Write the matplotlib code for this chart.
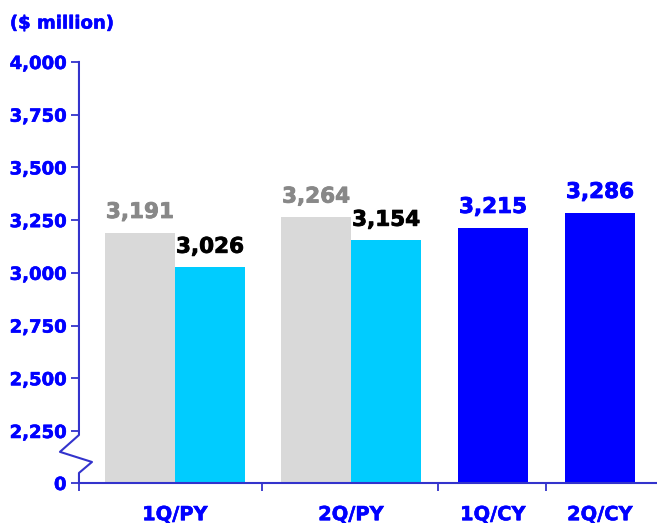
import matplotlib
matplotlib.use("Agg")
import matplotlib.pyplot as plt
import matplotlib.transforms as mtransforms
import matplotlib.patheffects as pe

# data ($ million)
groups = ["1Q/PY", "2Q/PY", "1Q/CY", "2Q/CY"]
py_grey = [3191, 3264]      # grey bars, prior year
py_cyan = [3026, 3154]      # cyan bars, prior year
cy_blue = [3215, 3286]      # blue bars, current year
yticks = [2250, 2500, 2750, 3000, 3250, 3500, 3750, 4000]

# colours
BLUE = "#0000ff"
AXIS = "#3333cc"
GREY = "#d9d9d9"
CYAN = "#00ccff"

# y axis is broken: the "0" sits a little below 2,250
y_zero = 2003.4

plt.rcParams["font.family"] = ["DejaVu Sans"]
plt.rcParams["font.weight"] = "bold"


def heavy(color, lw=0.4):
    # thin outline in the same colour, the reference font is a bit heavier
    return [pe.withStroke(linewidth=lw, foreground=color)]


fig = plt.figure(figsize=(6.57, 5.23), dpi=100)
ax = fig.add_axes([0.1202, 0.0765, 0.8798, 0.805])

w = 1.0
py_centers = [1.371, 3.886]
cy_centers = [5.914, 7.443]

# prior year bars
for i, c in enumerate(py_centers):
    ax.bar(c - w / 2, py_grey[i] - y_zero, width=w, bottom=y_zero, color=GREY)
    ax.bar(c + w / 2, py_cyan[i] - y_zero, width=w, bottom=y_zero, color=CYAN)
    ax.annotate(f"{py_grey[i]:,}", (c - w / 2, py_grey[i]), xytext=(0, 10.5),
                textcoords="offset points", ha="center", va="baseline",
                fontsize=15.5, fontweight="bold", color="#888888",
                path_effects=heavy("#888888", 0.6))
    ax.annotate(f"{py_cyan[i]:,}", (c + w / 2, py_cyan[i]), xytext=(0, 10.5),
                textcoords="offset points", ha="center", va="baseline",
                fontsize=15.5, fontweight="bold", color="black",
                path_effects=heavy("black", 0.6))

# current year bars
for i, c in enumerate(cy_centers):
    ax.bar(c, cy_blue[i] - y_zero, width=w, bottom=y_zero, color=BLUE)
    ax.annotate(f"{cy_blue[i]:,}", (c, cy_blue[i]), xytext=(0, 10.5),
                textcoords="offset points", ha="center", va="baseline",
                fontsize=15.5, fontweight="bold", color=BLUE,
                path_effects=heavy(BLUE, 0.6))

ax.set_xlim(0, 8.257)
ax.set_ylim(y_zero, 4000)

# y ticks
ax.set_yticks([y_zero] + yticks)
ax.set_yticklabels(["0"] + [f"{v:,}" for v in yticks])
ax.tick_params(axis="y", direction="out", length=6, width=1.3, color=AXIS,
               labelcolor=BLUE, labelsize=13, pad=3)

# x ticks: labels at group centres, marks between groups
ax.set_xticks(py_centers + cy_centers)
ax.set_xticklabels(groups)
ax.set_xticks([0, 2.614, 5.129, 6.671], minor=True)
ax.tick_params(axis="x", which="major", length=0, labelcolor=BLUE,
               labelsize=14, pad=16)
ax.tick_params(axis="x", which="minor", direction="out", length=6,
               width=1.3, color=AXIS)

for lab in ax.get_xticklabels() + ax.get_yticklabels():
    lab.set_fontweight("bold")
    lab.set_path_effects(heavy(BLUE))

for s in ["top", "right", "left"]:
    ax.spines[s].set_visible(False)
ax.spines["bottom"].set_color(AXIS)
ax.spines["bottom"].set_linewidth(1.5)

# left axis line with the break zigzag
trans = mtransforms.blended_transform_factory(ax.transAxes, ax.transData)
ax.plot([0, 0, -0.0329, 0.0225, 0, 0],
        [4000, 2231, 2151, 2103, 2051, y_zero],
        color=AXIS, lw=1.5, transform=trans, clip_on=False)

fig.text(0.015, 0.955, "($ million)", color=BLUE, fontsize=13,
         fontweight="bold", ha="left", va="center", path_effects=heavy(BLUE))

fig.savefig("out.png", dpi=100)
